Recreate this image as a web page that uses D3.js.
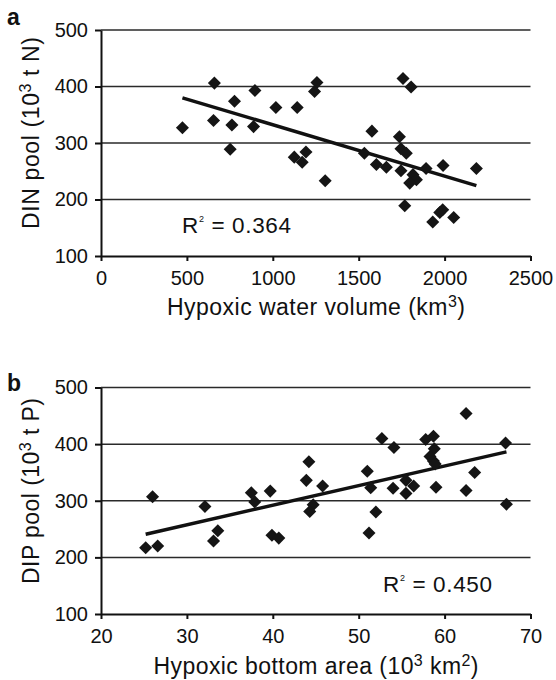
<!doctype html>
<html lang="en">
<head>
  <meta charset="utf-8">
  <title>Hypoxia nutrient pools</title>
  <script src="https://d3js.org/d3.v7.min.js"></script>
  <style type="text/css">
    body { margin:0; background:#fff; }
    text { font-family: "Liberation Sans", Arial, Helvetica, sans-serif; fill:#111; }
    .grid { stroke:#2a2a2a; stroke-width:1.5; }
    .axis path, .axis line { stroke:#111; stroke-width:2; }
    .axis text { font-size:20px; }
    .trend { fill:none; stroke:#111; stroke-width:3.5; }
    .pt { fill:#151515; }
  </style>
</head>
<body>
<script type="text/javascript">

  // panel a : DIN pool vs hypoxic water volume
  var volA = [474, 660, 655, 777, 762, 752, 896, 888, 1018, 1142, 1257, 1243, 1125, 1171, 1193, 1305,
              1758, 1805, 1577, 1737, 1746, 1777, 1533, 1603, 1661, 1746, 1816, 1836, 1797, 1892, 1991,
              2185, 1768, 1989, 1972, 1931, 2053];
  var dinA = [327, 406, 340, 374, 332, 289, 393, 329, 363, 363, 407, 391, 275, 266, 284, 233,
              414, 399, 321, 311, 290, 282, 282, 262, 257, 251, 244, 235, 229, 255, 260,
              255, 189, 182, 177, 160, 168];

  // panel b : DIP pool vs hypoxic bottom area
  var areaB = [26.0, 25.2, 26.6, 32.1, 33.6, 33.1, 37.5, 37.9, 39.7, 39.9, 40.7, 44.2, 43.9, 45.8,
               44.7, 44.3, 51.0, 51.4, 52.0, 51.2, 52.7, 54.1, 54.0, 55.5, 56.4, 55.5, 57.8, 58.7,
               58.8, 58.3, 58.7, 58.9, 59.0, 62.5, 63.5, 62.5, 67.1, 67.2];
  var dipB = [307, 217, 220, 290, 247, 229, 314, 298, 317, 239, 234, 369, 336, 326,
              293, 281, 352, 323, 280, 243, 410, 394, 322, 336, 326, 313, 408, 414,
              392, 378, 370, 365, 324, 454, 350, 318, 402, 294];

  var yTicks = [100, 200, 300, 400, 500];
  var xTicksA = [0, 500, 1000, 1500, 2000, 2500];
  var xTicksB = [20, 30, 40, 50, 60, 70];

  var W = 556, H = 680;
  var svg = d3.select("body").append("svg")
    .attr("width", W).attr("height", H)
    .style("background", "#fff");

  function fit(xs, ys) {
    var mx = d3.mean(xs), my = d3.mean(ys);
    var sxy = d3.sum(xs, (x, i) => (x - mx) * (ys[i] - my));
    var sxx = d3.sum(xs, x => (x - mx) * (x - mx));
    var b = sxy / sxx;
    return {b: b, a: my - b * mx};
  }

  function panel(p) {
    var g = svg.append("g");
    var x = d3.scaleLinear().domain(p.xDomain).range([101, 530.5]);
    var y = d3.scaleLinear().domain([100, 500]).range([p.bottom, p.top]);

    g.selectAll(".grid").data(yTicks.slice(1)).enter()
      .append("line").attr("class", "grid")
      .attr("x1", x(p.xDomain[0])).attr("x2", x(p.xDomain[1]))
      .attr("y1", d => y(d)).attr("y2", d => y(d));

    g.append("g").attr("class", "axis")
      .attr("transform", "translate(0," + p.bottom + ")")
      .call(d3.axisBottom(x).tickValues(p.xTicks).tickSize(5).tickSizeOuter(0).tickPadding(10).tickFormat(d3.format("d")))
      .call(a => a.selectAll("text").attr("fill", "#111"));

    g.append("g").attr("class", "axis")
      .attr("transform", "translate(" + x(p.xDomain[0]) + ",0)")
      .call(d3.axisLeft(y).tickValues(yTicks).tickSize(6).tickSizeOuter(0).tickPadding(7))
      .call(a => a.selectAll("text").attr("fill", "#111"));

    var f = fit(p.xs, p.ys);
    var ext = d3.extent(p.xs);
    g.append("path").attr("class", "trend")
      .attr("d", d3.line().x(d => x(d)).y(d => y(f.a + f.b * d))(ext));

    g.selectAll(".pt").data(p.xs).enter()
      .append("path").attr("class", "pt")
      .attr("d", d3.symbol(d3.symbolSquare, 85))
      .attr("transform", (d, i) => "translate(" + x(d) + "," + y(p.ys[i]) + ") rotate(45)");

    // panel letter
    g.append("text").attr("x", 7).attr("y", p.letterY)
      .style("font-size", "23px").style("font-weight", "bold").text(p.letter);

    // y title
    var yt = g.append("text")
      .attr("transform", "translate(39," + p.yTitleC + ") rotate(-90)")
      .attr("text-anchor", "middle").style("font-size", "23px")
      .attr("textLength", p.yTitleLen).attr("lengthAdjust", "spacing");
    yt.append("tspan").text(p.yTitle[0]);
    yt.append("tspan").attr("dy", -8).style("font-size", "16px").text("3");
    yt.append("tspan").attr("dy", 8).text(p.yTitle[1]);

    // x title
    var xt = g.append("text")
      .attr("x", 316).attr("y", p.xTitleY)
      .attr("text-anchor", "middle").style("font-size", "23px")
      .attr("textLength", p.xTitleLen).attr("lengthAdjust", "spacing");
    p.xTitle.forEach(s => {
      if (s.sup) xt.append("tspan").attr("dy", -8).style("font-size", "16px").text(s.t);
      else xt.append("tspan").attr("dy", s.after ? 8 : 0).text(s.t);
    });

    // R squared
    var rt = g.append("text").attr("x", p.rX).attr("y", p.rY)
      .style("font-size", "22.5px").attr("textLength", 109).attr("lengthAdjust", "spacing");
    rt.append("tspan").text("R");
    rt.append("tspan").attr("dy", -11).style("font-size", "9px").text("2");
    rt.append("tspan").attr("dy", 11).text(" = " + p.r2);
  }

  panel({
    letter: "a", letterY: 25, top: 30, bottom: 256,
    xDomain: [0, 2500], xTicks: xTicksA, xs: volA, ys: dinA,
    yTitle: ["DIN pool (10", " t N)"], yTitleC: 133, yTitleLen: 192,
    xTitle: [{t: "Hypoxic water volume (km"}, {t: "3", sup: true}, {t: ")", after: true}],
    xTitleY: 315, xTitleLen: 298,
    r2: "0.364", rX: 182, rY: 233
  });

  panel({
    letter: "b", letterY: 391, top: 387.5, bottom: 614,
    xDomain: [20, 70], xTicks: xTicksB, xs: areaB, ys: dipB,
    yTitle: ["DIP pool (10", " t P)"], yTitleC: 491, yTitleLen: 186,
    xTitle: [{t: "Hypoxic bottom area (10"}, {t: "3", sup: true}, {t: " km", after: true}, {t: "2", sup: true}, {t: ")", after: true}],
    xTitleY: 674, xTitleLen: 325,
    r2: "0.450", rX: 383, rY: 592
  });

</script>
</body>
</html>
